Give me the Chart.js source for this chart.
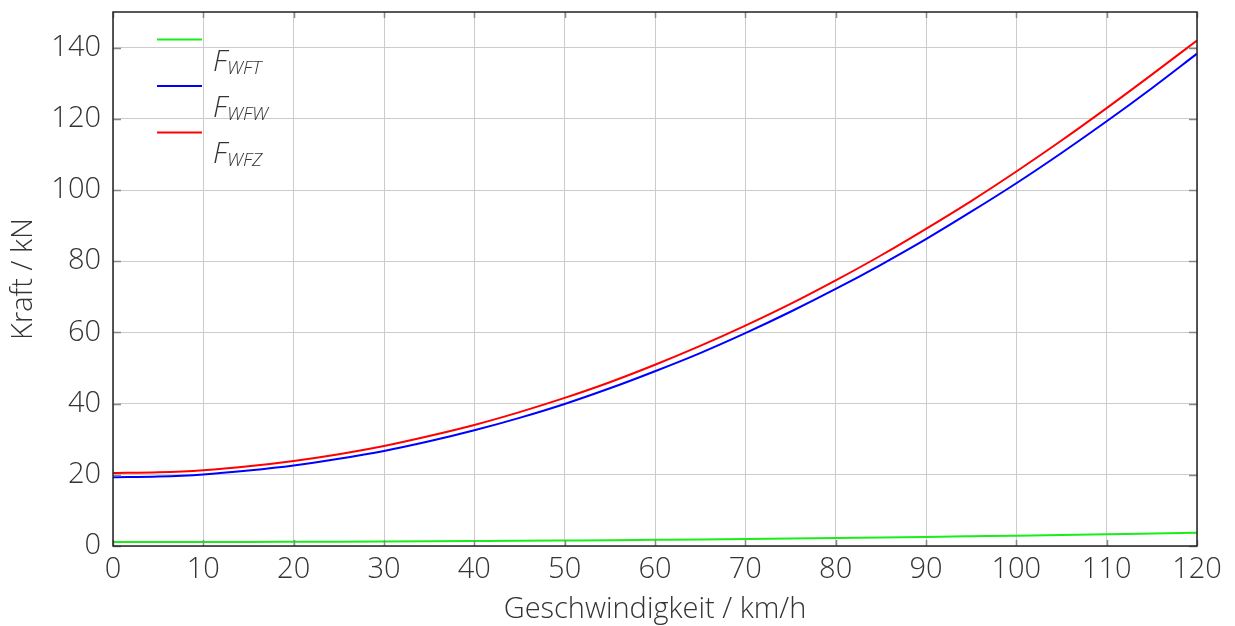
<!DOCTYPE html>
<html>
<head>
<meta charset="utf-8">
<script src="https://cdn.jsdelivr.net/npm/chart.js@4/dist/chart.umd.min.js"></script>
<style>
  html, body { margin: 0; padding: 0; background: #fff; }
  #wrap { width: 1235px; height: 626px; position: relative; }
</style>
</head>
<body>
<div id="wrap"><canvas id="c" width="1235" height="626"></canvas></div>
<script>
// Speed in km/h
const speeds = [0, 5, 10, 15, 20, 25, 30, 35, 40, 45, 50, 55, 60, 65, 70, 75, 80, 85, 90, 95, 100, 105, 110, 115, 120];
// Resistance forces in kN
const fWFT = [1.10, 1.10, 1.12, 1.14, 1.17, 1.21, 1.26, 1.32, 1.39, 1.46, 1.55, 1.64, 1.75, 1.86, 1.98, 2.11, 2.25, 2.40, 2.56, 2.73, 2.90, 3.08, 3.27, 3.48, 3.70];
const fWFW = [19.3, 19.5, 20.1, 21.2, 22.6, 24.5, 26.7, 29.4, 32.5, 36.0, 39.9, 44.3, 49.1, 54.2, 59.8, 65.8, 72.2, 79.0, 86.2, 93.9, 101.9, 110.4, 119.3, 128.6, 138.3];
const fWFZ = [20.5, 20.7, 21.3, 22.4, 23.9, 25.8, 28.1, 30.9, 34.0, 37.6, 41.6, 46.0, 50.9, 56.2, 61.9, 68.0, 74.6, 81.6, 89.1, 96.9, 105.2, 113.9, 123.0, 132.4, 142.0];
// Legend entries: main symbol and subscript
const seriesNames = [["F", "WFT"], ["F", "WFW"], ["F", "WFZ"]];
const seriesColors = ["#1aee1a", "#0000ff", "#ff0000"];
const xTicks = [0, 10, 20, 30, 40, 50, 60, 70, 80, 90, 100, 110, 120];
const yTicks = [0, 20, 40, 60, 80, 100, 120, 140];

const FONT = "'Open Sans', 'DejaVu Sans', sans-serif";
const TEXT = "#333333";
const FS = 29;

const toPts = (ys) => speeds.map((x, i) => ({ x: x, y: ys[i] }));

// Frame, inward tick marks and the legend with subscripts
const framePlugin = {
  id: 'frame',
  afterDatasetsDraw(chart) {
    const { ctx, chartArea: a, scales } = chart;
    ctx.save();
    // inward tick marks
    ctx.strokeStyle = '#888888';
    ctx.lineWidth = 1.5;
    ctx.beginPath();
    xTicks.forEach(v => {
      const px = Math.round(scales.x.getPixelForValue(v)) + 0.5;
      ctx.moveTo(px, a.bottom); ctx.lineTo(px, a.bottom - 6);
      ctx.moveTo(px, a.top); ctx.lineTo(px, a.top + 6);
    });
    yTicks.forEach(v => {
      const py = Math.round(scales.y.getPixelForValue(v)) + 0.5;
      ctx.moveTo(a.left, py); ctx.lineTo(a.left + 8, py);
      ctx.moveTo(a.right, py); ctx.lineTo(a.right - 8, py);
    });
    ctx.stroke();
    // frame
    ctx.strokeStyle = '#222222';
    ctx.lineWidth = 1.5;
    ctx.strokeRect(a.left, a.top, a.right - a.left, a.bottom - a.top);

    // legend
    const lx0 = a.left + 44, lx1 = a.left + 89;
    seriesNames.forEach((nm, i) => {
      const ly = a.top + 27.5 + i * 46.5;
      ctx.strokeStyle = seriesColors[i];
      ctx.lineWidth = 2;
      ctx.beginPath();
      ctx.moveTo(lx0, ly); ctx.lineTo(lx1, ly);
      ctx.stroke();
      const tx = a.left + 100, ty = a.top + 59 + i * 46;
      ctx.fillStyle = TEXT;
      ctx.textBaseline = 'alphabetic';
      ctx.textAlign = 'left';
      ctx.font = "italic 300 29px " + FONT;
      ctx.fillText(nm[0], tx, ty);
      const w = ctx.measureText(nm[0]).width;
      ctx.font = "italic 300 19px " + FONT;
      ctx.fillText(nm[1], tx + w, ty + 3);
    });
    ctx.restore();
  }
};

const ds = (label, data, color) => ({
  label: label,
  data: toPts(data),
  borderColor: color,
  backgroundColor: color,
  borderWidth: 2,
  pointRadius: 0,
  tension: 0.4,
  cubicInterpolationMode: 'monotone',
  fill: false
});

new Chart(document.getElementById('c'), {
  type: 'line',
  data: {
    datasets: [
      ds('F_WFT', fWFT, seriesColors[0]),
      ds('F_WFW', fWFW, seriesColors[1]),
      ds('F_WFZ', fWFZ, seriesColors[2])
    ]
  },
  options: {
    responsive: false,
    animation: false,
    layout: { padding: { top: 12, right: 38, left: 0, bottom: 0 } },
    plugins: { legend: { display: false }, tooltip: { enabled: false } },
    scales: {
      x: {
        type: 'linear', min: 0, max: 120,
        afterBuildTicks: (s) => { s.ticks = xTicks.map(v => ({ value: v })); },
        afterFit: (s) => { s.height = 80; s.paddingLeft = 0; s.paddingRight = 0; },
        grid: { color: '#cccccc', lineWidth: 1, drawTicks: false },
        border: { display: false },
        ticks: { color: TEXT, padding: 6, maxRotation: 0, font: { family: FONT, size: FS, weight: 300 } },
        title: { display: true, text: 'Geschwindigkeit / km/h', color: TEXT, padding: { top: 4, bottom: -1 }, font: { family: FONT, size: FS, weight: 300 } }
      },
      y: {
        type: 'linear', min: 0, max: 150,
        afterBuildTicks: (s) => { s.ticks = yTicks.map(v => ({ value: v })); },
        afterFit: (s) => { s.width = 113; s.paddingTop = 0; s.paddingBottom = 0; },
        grid: { color: '#cccccc', lineWidth: 1, drawTicks: false },
        border: { display: false },
        ticks: { color: TEXT, padding: 12, font: { family: FONT, size: FS, weight: 300 } },
        title: { display: true, text: 'Kraft / kN', color: TEXT, padding: { top: 6, bottom: 4 }, font: { family: FONT, size: FS, weight: 300 } }
      }
    }
  },
  plugins: [framePlugin]
});
</script>
</body>
</html>
